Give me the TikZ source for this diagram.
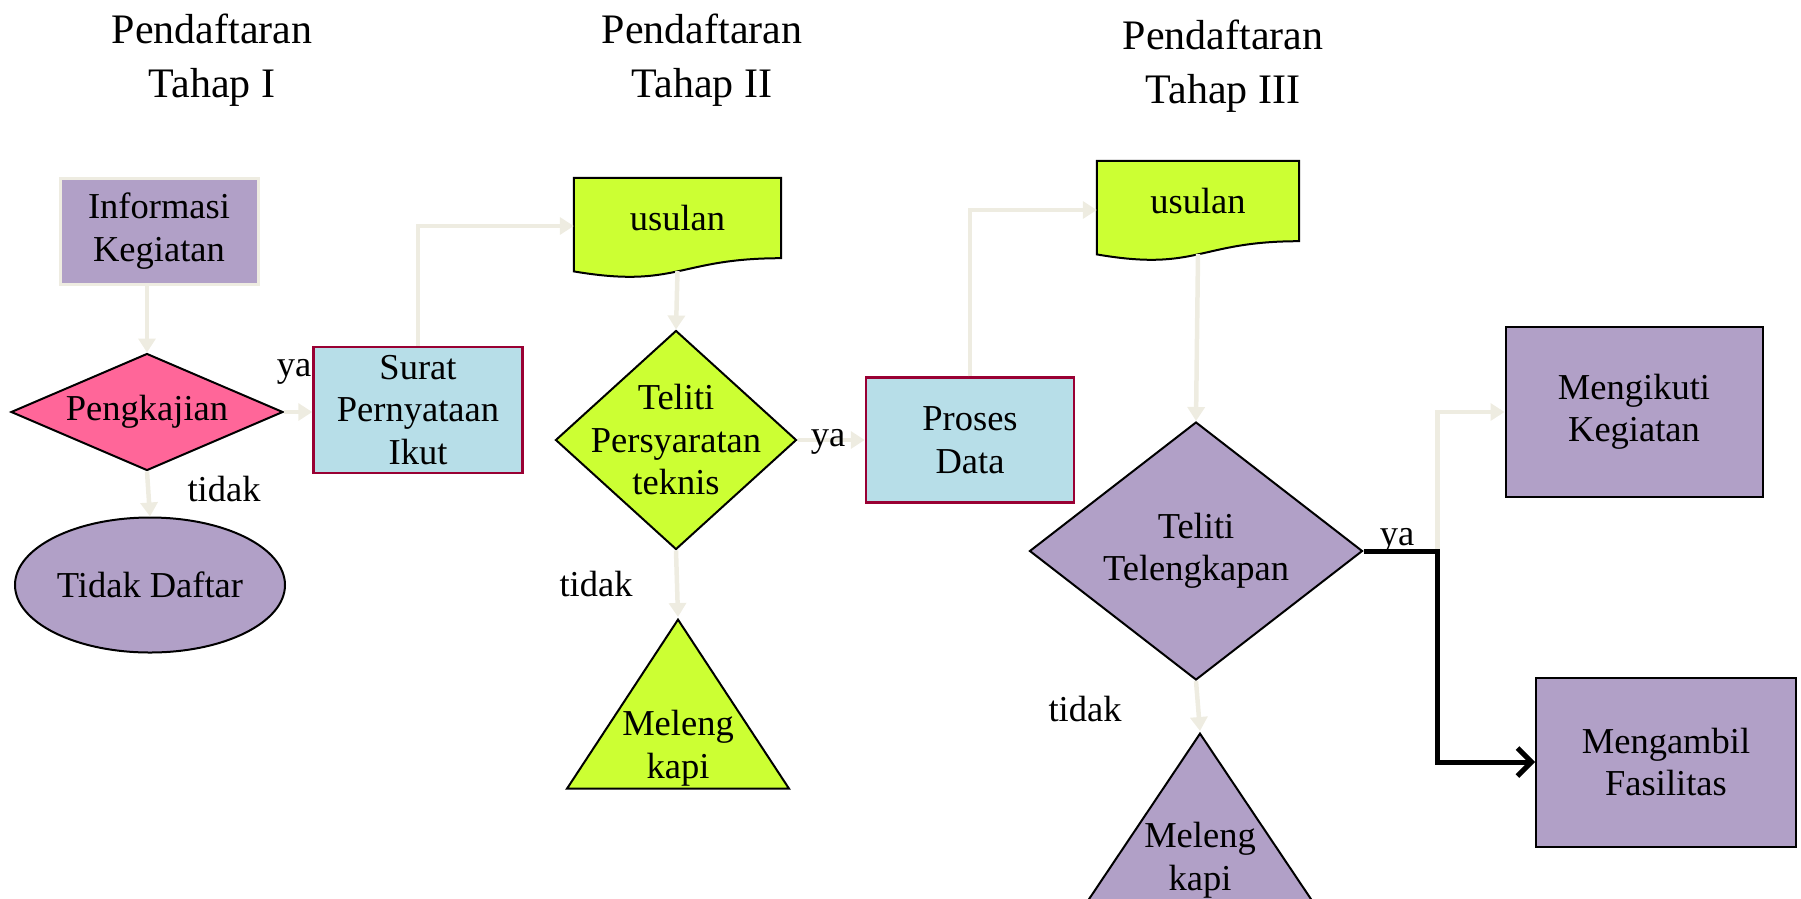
\documentclass[tikz,border=0pt]{standalone}
\usepackage{fontspec}
\setmainfont{Liberation Serif}
\usetikzlibrary{shapes.geometric}
\usetikzlibrary{arrows.meta}
\usetikzlibrary{backgrounds}

\definecolor{ungu}{HTML}{B1A0C7}
\definecolor{merahmuda}{HTML}{FF6699}
\definecolor{birumuda}{HTML}{B7DEE8}
\definecolor{hijau}{HTML}{CCFF33}
\definecolor{marun}{HTML}{990033}
\definecolor{krem}{HTML}{EEECE1}

\begin{document}
\begin{tikzpicture}[x=1pt, y=-1pt,
        font=\fontsize{36.5}{42.5}\selectfont,
        kotak/.style={rectangle, draw=black, line width=2pt, fill=ungu, align=center, inner sep=0pt},
        proses/.style={rectangle, draw=marun, line width=2.5pt, fill=birumuda, align=center, inner sep=0pt},
        belah/.style={diamond, draw=black, line width=2pt, inner sep=0pt},
        segitiga/.style={isosceles triangle, isosceles triangle stretches, shape border rotate=90, draw=black, line width=2pt, inner sep=0pt, anchor=apex},
        dokumen/.style={rectangle, inner sep=0pt, minimum width=207pt, minimum height=80pt},
        teks/.style={align=center, inner sep=0pt},
        panah/.style={draw=krem, line width=4.5pt, -{Triangle[length=14pt,width=17pt]}},
        judul/.style={align=center, font=\fontsize{42}{54}\selectfont}]
        \useasboundingbox (0,0) rectangle (1801,898);

        % Judul tahap
        \node[judul] (tahap1) at (212,60) {Pendaftaran\\Tahap I};
        \node[judul] (tahap2) at (702,60) {Pendaftaran\\Tahap II};
        \node[judul] (tahap3) at (1223,66) {Pendaftaran\\Tahap III};

        % Tahap I
        \node[kotak, draw=krem, line width=3pt, minimum width=198pt, minimum height=106pt] (info) at (159,231) {Informasi\\Kegiatan};
        \node[belah, fill=merahmuda, minimum width=272pt, minimum height=117pt, label={[teks]center:Pengkajian}] (kaji) at (147,412) {};
        \node[ellipse, draw=black, line width=2pt, fill=ungu, minimum width=270pt, minimum height=135pt, inner sep=0pt] (tdk) at (150,585) {Tidak Daftar};
        \node[proses, minimum width=209pt, minimum height=126pt] (surat) at (418,410) {Surat\\Pernyataan\\Ikut};

        % Tahap II
        \node[dokumen] (usul1) at (677.5,218) {usulan};
        \node[belah, fill=hijau, minimum width=241pt, minimum height=219pt, label={[teks]center:{Teliti\\Persyaratan\\teknis}}] (teliti1) at (676,440) {};
        \node[segitiga, fill=hijau, minimum width=222pt, minimum height=169pt] (lengkap1) at (678,617) {};
        \node[teks] (lengkap1teks) at (678,748) {Meleng\\kapi};
        \node[proses, minimum width=208pt, minimum height=125pt] (proses) at (970,440) {Proses\\Data};

        % Tahap III
        \node[dokumen, minimum width=202pt] (usul2) at (1198,201) {usulan};
        \node[belah, fill=ungu, minimum width=333pt, minimum height=258pt, label={[teks]center:{Teliti\\Telengkapan}}] (teliti2) at (1196,551) {};
        \node[segitiga, fill=ungu, minimum width=224pt, minimum height=167pt] (lengkap2) at (1200,731) {};
        \node[teks] (lengkap2teks) at (1200,860) {Meleng\\kapi};
        \node[kotak, minimum width=257pt, minimum height=170pt] (ikut) at (1634,412) {Mengikuti\\Kegiatan};
        \node[kotak, minimum width=260pt, minimum height=169pt] (ambil) at (1666,762) {Mengambil\\Fasilitas};

        % Bentuk dokumen (bawah bergelombang)
        \begin{scope}[on background layer]
            \draw[line width=2pt, fill=hijau] (usul1.north west) -- (usul1.north east) -- (usul1.south east) .. controls (usul1.south) and ([yshift=-30.7pt]usul1.south) .. ([yshift=-13.2pt]usul1.south west) -- cycle;
            \draw[line width=2pt, fill=hijau] (usul2.north west) -- (usul2.north east) -- (usul2.south east) .. controls (usul2.south) and ([yshift=-30.7pt]usul2.south) .. ([yshift=-13.2pt]usul2.south west) -- cycle;
        \end{scope}

        % Panah
        \draw[panah] (info.south -| kaji.north) -- (kaji.north);
        \draw[panah] (kaji.east) -- (kaji.east -| surat.west);
        \draw[panah] (kaji.south) -- (tdk.north);
        \draw[panah] (surat.north) |- ([yshift=-8pt]usul1.west);
        \draw[panah] ([yshift=-13pt]usul1.south) -- (teliti1.north);
        \draw[panah] (teliti1.east) -- (teliti1.east -| proses.west);
        \draw[panah] (teliti1.south) -- (lengkap1.apex);
        \draw[panah] (proses.north) |- ([yshift=-9pt]usul2.west);
        \draw[panah] ([yshift=-13pt]usul2.south) -- (teliti2.north);
        \draw[panah] (teliti2.south) -- (lengkap2.apex);
        \coordinate (cabang) at ([xshift=74pt]teliti2.east);
        \draw[panah] (cabang) |- (ikut.west);
        \draw[line width=5pt, -{Straight Barb[length=14pt,width=28pt]}] (teliti2.east) -- (cabang) |- (ambil.west);

        % Keterangan ya / tidak
        \node[anchor=base] (ya1) at (294,376) {ya};
        \node[anchor=base] (tidak1) at (224,501) {tidak};
        \node[anchor=base] (ya2) at (828,446) {ya};
        \node[anchor=base] (tidak2) at (596,596) {tidak};
        \node[anchor=base] (ya3) at (1397,545) {ya};
        \node[anchor=base] (tidak3) at (1085,721) {tidak};
\end{tikzpicture}
\end{document}
